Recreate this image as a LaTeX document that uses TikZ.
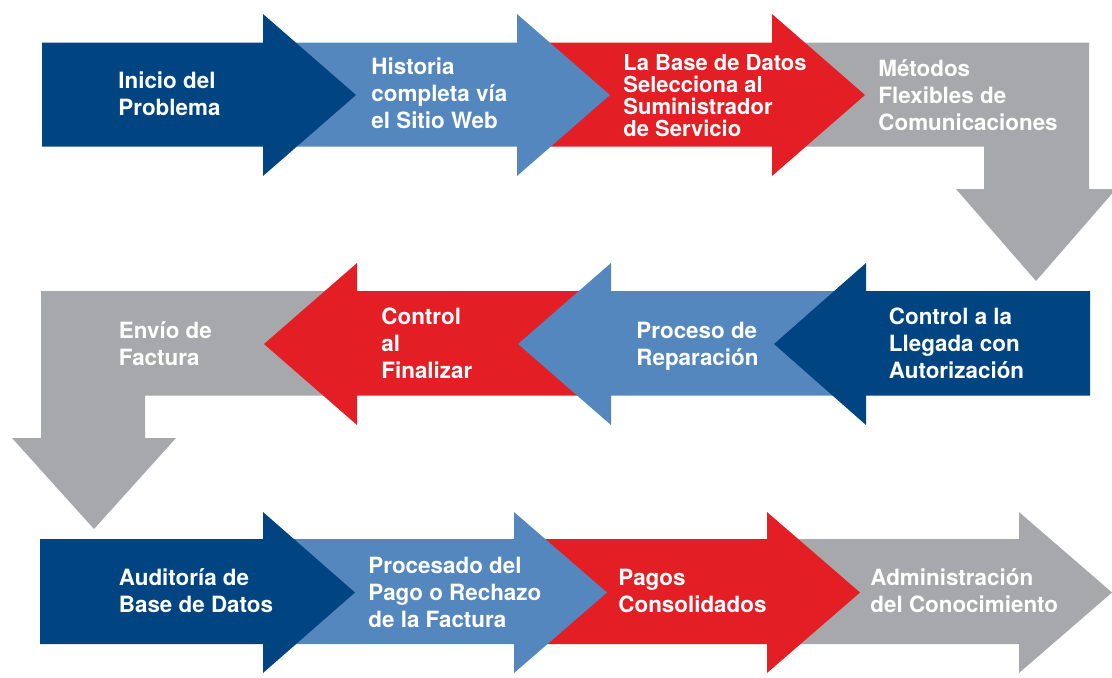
\documentclass[tikz,border=0pt]{standalone}
\usepackage{fontspec}
\setmainfont{TeX Gyre Heros}
\usetikzlibrary{positioning}
\definecolor{darkblue}{HTML}{004582}
\definecolor{lightblue}{HTML}{5487BE}
\definecolor{flowred}{HTML}{E31E24}
\definecolor{flowgrey}{HTML}{A7A8AB}

\begin{document}
\begin{tikzpicture}[x=0.5pt, y=-0.5pt,
  label/.style={anchor=base west, inner sep=0pt, align=left, text=white,
    font=\bfseries\fontsize{11.2}{13.5}\selectfont},
  tight/.style={label, font=\bfseries\fontsize{11}{11}\selectfont}]
\useasboundingbox (0,0) rectangle (1112,677);
% row 1
\fill[flowgrey] (772,42.5) -- (1089,42.5) -- (1089,189) -- (1116,189) -- (1036,281) -- (956,189) -- (984,189) -- (984,146.5) -- (772,146.5) -- cycle;
\fill[flowred] (517,42.5) -- (772,42.5) -- (772,14) -- (865,95) -- (772,176) -- (772,146.5) -- (517,146.5) -- cycle;
\fill[lightblue] (263,42.5) -- (517,42.5) -- (517,14) -- (610,95) -- (517,176) -- (517,146.5) -- (263,146.5) -- cycle;
\fill[darkblue] (42,42.5) -- (263,42.5) -- (263,14) -- (356,95) -- (263,176) -- (263,146.5) -- (42,146.5) -- cycle;
% row 2
\fill[flowgrey] (357,291) -- (41,291) -- (41,438) -- (12,438) -- (94,529) -- (176,438) -- (145,438) -- (145,395.5) -- (357,395.5) -- cycle;
\fill[flowred] (611,291) -- (357,291) -- (357,263) -- (264,344) -- (357,425) -- (357,395.5) -- (611,395.5) -- cycle;
\fill[lightblue] (866,291) -- (611,291) -- (611,263) -- (518,344) -- (611,425) -- (611,395.5) -- (866,395.5) -- cycle;
\fill[darkblue] (1090,291) -- (866,291) -- (866,263) -- (774,344) -- (866,425) -- (866,395.5) -- (1090,395.5) -- cycle;
% row 3
\fill[flowgrey] (767,539) -- (1019,539) -- (1019,512) -- (1112,592.5) -- (1019,673) -- (1019,644) -- (767,644) -- cycle;
\fill[flowred] (514,539) -- (767,539) -- (767,512) -- (860,592.5) -- (767,673) -- (767,644) -- (514,644) -- cycle;
\fill[lightblue] (263,539) -- (514,539) -- (514,512) -- (607,592.5) -- (514,673) -- (514,644) -- (263,644) -- cycle;
\fill[darkblue] (40,539) -- (263,539) -- (263,512) -- (355,592.5) -- (263,673) -- (263,644) -- (40,644) -- cycle;

\node[label] (inicio) at (118,115) {Inicio del\\Problema};
\node[label] (historia) at (371,128.5) {Historia\\completa vía\\el Sitio Web};
\node[tight] (basedatos) at (623,136.5) {La Base de Datos\\Selecciona al\\Suministrador\\de Servicio};
\node[label] (metodos) at (878,130) {Métodos\\Flexibles de\\Comunicaciones};
\node[label] (llegada) at (888.5,378) {Control a la\\Llegada con\\Autorización};
\node[label] (reparacion) at (636,365) {Proceso de\\Reparación};
\node[label] (finalizar) at (381,378) {Control\\al\\Finalizar};
\node[label] (envio) at (118.5,365) {Envío de\\Factura};
\node[label] (auditoria) at (118.5,612.5) {Auditoría de\\Base de Datos};
\node[label] (procesado) at (368,627.5) {Procesado del\\Pago o Rechazo\\de la Factura};
\node[label] (pagos) at (618,612.5) {Pagos\\Consolidados};
\node[label] (conocimiento) at (870,612.5) {Administración\\del Conocimiento};
\end{tikzpicture}
\end{document}
